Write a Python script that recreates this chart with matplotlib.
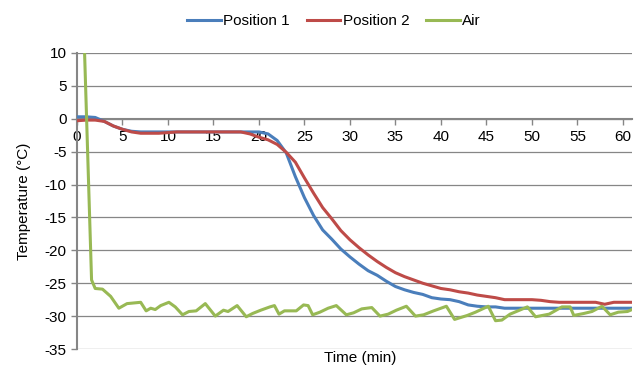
import matplotlib
matplotlib.use("Agg")
import matplotlib.pyplot as plt

# readings, one per minute, for the two probe positions
minutes = list(range(0, 62))
position_1 = [0.3, 0.3, 0.2, -0.4, -1.1, -1.6, -1.9, -2.0, -2.0, -2.0,
              -2.0, -2.0, -2.0, -2.0, -2.0, -2.0, -2.0, -2.0, -2.0, -2.0,
              -2.0, -2.3, -3.3, -5.2, -8.8, -12.0, -14.7, -16.9, -18.3, -19.8,
              -21.0, -22.1, -23.1, -23.8, -24.7, -25.5, -26.0, -26.4, -26.7, -27.2,
              -27.4, -27.5, -27.8, -28.3, -28.5, -28.6, -28.6, -28.8, -28.8, -28.8,
              -28.8, -28.8, -28.8, -28.8, -28.8, -28.8, -28.8, -28.8, -28.8, -28.8,
              -28.8, -28.8]
position_2 = [-0.3, -0.2, -0.2, -0.4, -1.1, -1.6, -2.0, -2.2, -2.2, -2.2,
              -2.1, -2.0, -2.0, -2.0, -2.0, -2.0, -2.0, -2.0, -2.0, -2.3,
              -2.8, -3.2, -3.9, -5.1, -6.6, -9.0, -11.3, -13.5, -15.2, -17.0,
              -18.4, -19.6, -20.7, -21.7, -22.6, -23.4, -24.0, -24.5, -25.0, -25.4,
              -25.8, -26.0, -26.3, -26.5, -26.8, -27.0, -27.2, -27.5, -27.5, -27.5,
              -27.5, -27.6, -27.8, -27.9, -27.9, -27.9, -27.9, -27.9, -28.2, -27.9,
              -27.9, -27.9]

# air probe, read at its own vertices
air_time = [0, 0.7, 1.6, 2.0, 2.8, 3.7, 4.6, 5.5, 7.0, 7.6, 8.1, 8.6, 9.2, 10.1,
            10.8, 11.6, 12.3, 13.1, 14.1, 15.2, 16.1, 16.6, 17.6, 18.6, 19.3,
            20.2, 21.2, 21.7, 22.2, 22.8, 24.1, 24.9, 25.4, 25.9, 26.7, 27.6,
            28.5, 29.6, 30.4, 31.3, 32.4, 33.3, 34.2, 35.1, 36.2, 37.2, 38.1,
            39.2, 40.6, 41.5, 42.9, 43.8, 45.2, 46.0, 46.7, 47.6, 49.5, 50.4,
            51.9, 53.3, 54.2, 54.6, 55.7, 56.6, 57.7, 58.6, 59.5, 60.5, 61.0]
air = [18.0, 16.0, -24.5, -25.8, -25.9, -27.0, -28.8, -28.1, -27.9, -29.2,
       -28.8, -29.0, -28.4, -27.9, -28.6, -29.8, -29.3, -29.2, -28.1, -30.0,
       -29.1, -29.3, -28.4, -30.1, -29.6, -29.1, -28.6, -28.4, -29.7, -29.2,
       -29.2, -28.3, -28.4, -29.8, -29.4, -28.8, -28.4, -29.8, -29.5, -28.9,
       -28.7, -30.0, -29.7, -29.1, -28.5, -30.0, -29.8, -29.2, -28.5, -30.5,
       -29.9, -29.4, -28.5, -30.7, -30.6, -29.7, -28.6, -30.1, -29.7, -28.6,
       -28.6, -29.9, -29.6, -29.3, -28.5, -29.8, -29.4, -29.3, -29.0]

x_ticks = list(range(0, 61, 5))
y_ticks = list(range(-35, 11, 5))

GREY = "#868686"

plt.rcParams["font.family"] = ["Liberation Sans", "DejaVu Sans"]
plt.rcParams["font.size"] = 11
plt.rcParams["axes.unicode_minus"] = False

fig = plt.figure(figsize=(6.35, 3.68), dpi=100)
ax = fig.add_axes([77 / 635, 1 - 349 / 368, 555 / 635, 296 / 368])

ax.plot(minutes, position_1, color="#4a7ebb", lw=2.2, label="Position 1", zorder=3)
ax.plot(minutes, position_2, color="#be4b48", lw=2.2, label="Position 2", zorder=3)
ax.plot(air_time, air, color="#98b954", lw=2.2, label="Air", zorder=3)

ax.set_xlim(0, 61)
ax.set_ylim(-35, 10)
ax.set_xticks(x_ticks)
ax.set_yticks(y_ticks)
ax.grid(axis="y", color=GREY, lw=0.9)
ax.set_axisbelow(True)

for side in ("top", "right"):
    ax.spines[side].set_visible(False)
ax.spines["left"].set_color(GREY)
ax.spines["left"].set_linewidth(1.5)
ax.spines["bottom"].set_position(("data", 0))
ax.spines["bottom"].set_color(GREY)
ax.spines["bottom"].set_linewidth(1.5)
ax.tick_params(axis="x", colors=GREY, length=4, width=1, pad=4, labelcolor="black")
ax.tick_params(axis="y", colors=GREY, length=4, width=1, labelcolor="black")

ax.set_ylabel("Temperature (°C)", labelpad=10)
fig.text(360 / 635, 1 - 358 / 368, "Time (min)", ha="center", va="center")

fig.legend(loc="center", bbox_to_anchor=(334 / 635, 1 - 21 / 368), ncol=3,
           frameon=False, handlelength=2.2, handletextpad=0.15, columnspacing=1.1,
           borderaxespad=0)

fig.savefig("out.png", dpi=100)
